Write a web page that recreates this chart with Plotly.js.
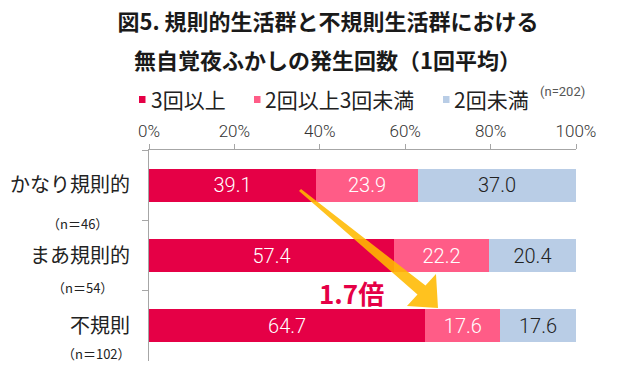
<!DOCTYPE html>
<html>
<head>
<meta charset="utf-8">
<script src="https://cdn.plot.ly/plotly-3.0.1.min.js"></script>
<style>html,body{margin:0;padding:0;background:#fff;}#chart{width:621px;height:376px;}</style>
</head>
<body>
<div id="chart"></div>
<script>
// ---- data ----
const categories = ['かなり規則的', 'まあ規則的', '不規則'];
const sampleSizes = ['（n＝46）', '（n＝54）', '（n＝102）'];
const seriesNames = ['3回以上', '2回以上3回未満', '2回未満'];
const over3 = [39.1, 57.4, 64.7];
const from2to3 = [23.9, 22.2, 17.6];
const under2 = [37.0, 20.4, 17.6];
const xTickVals = [0, 20, 40, 60, 80, 100];
const xTickText = ['0%', '20%', '40%', '60%', '80%', '100%'];
const totalN = '(n=202)';
const ratioLabel = '1.7倍';
const titleLine1 = '図5. 規則的生活群と不規則生活群における';
const titleLine2 = '無自覚夜ふかしの発生回数（1回平均）';

// ---- style ----
const colors = ['#E50046', '#FF5C87', '#B9CDE6'];
const textColors = ['#ffffff', '#ffffff', '#222222'];
const JP = '"Noto Sans CJK JP", "Noto Sans", sans-serif';
const NUM = 'Roboto, "Noto Sans CJK JP", sans-serif';
const W = 621, H = 376;
const PL = 149, PR = 576, PT = 150, PB = 361;
const fx = p => (p - PL) / (PR - PL);
const fy = p => (PB - p) / (PB - PT);

const seriesValues = [over3, from2to3, under2];
const traces = seriesValues.map((vals, i) => ({
  type: 'bar',
  orientation: 'h',
  name: seriesNames[i],
  y: categories,
  x: vals,
  marker: {color: colors[i], line: {width: 0}},
  text: vals.map(v => v.toFixed(1)),
  texttemplate: '%{text}',
  textposition: 'inside',
  insidetextanchor: 'middle',
  textangle: 0,
  constraintext: 'none',
  textfont: {family: NUM, size: 20, color: textColors[i], weight: 300},
  hoverinfo: 'name+x',
  showlegend: false
}));

// legend (drawn as annotations + squares)
const legendSquareX = [139, 254, 443];
const legendTextX = [149, 263, 452];
const legendY = 99.5;
const shapes = [];
const annotations = [];
seriesNames.forEach((n, i) => {
  shapes.push({type: 'rect', xref: 'paper', yref: 'paper',
    x0: fx(legendSquareX[i]), x1: fx(legendSquareX[i] + 6.5),
    y0: fy(legendY - 3.5), y1: fy(legendY + 3.5),
    fillcolor: colors[i], line: {width: 0}});
  annotations.push({xref: 'paper', yref: 'paper', x: fx(legendTextX[i]), y: fy(legendY),
    xanchor: 'left', yanchor: 'middle', showarrow: false, text: n,
    font: {family: JP, size: 21, color: '#222'}});
});
annotations.push({xref: 'paper', yref: 'paper', x: fx(538), y: fy(91), xanchor: 'left', yanchor: 'middle',
  showarrow: false, text: totalN, font: {family: NUM, size: 13, color: '#555'}});

// sample sizes under category labels
const nPosX = [77, 82.5, 96];
const nPosY = [223, 287, 353];
sampleSizes.forEach((s, i) => {
  annotations.push({xref: 'paper', yref: 'paper', x: fx(nPosX[i]), y: fy(nPosY[i]),
    xanchor: 'center', yanchor: 'middle', showarrow: false, text: s,
    font: {family: JP, size: 13, color: '#222'}});
});

// title line 2
annotations.push({xref: 'paper', yref: 'paper', x: fx(327), y: fy(59.5), xanchor: 'center', yanchor: 'middle',
  showarrow: false, text: '<b>' + titleLine2 + '</b>', font: {family: JP, size: 22, color: '#1a1a1a'}});

// ratio label
annotations.push({xref: 'paper', yref: 'paper', x: fx(351), y: fy(292.5), xanchor: 'center', yanchor: 'middle',
  showarrow: false, text: '<b>' + ratioLabel + '</b>', font: {family: JP, size: 26, color: '#E50046'}});

// arrow (decoration)
const arrowPts = [[299, 191], [417.5, 294.4], [407, 306], [438, 308], [436, 274], [425.5, 285.6], [301, 189]];
const path = 'M' + arrowPts.map(p => fx(p[0]).toFixed(4) + ',' + fy(p[1]).toFixed(4)).join(' L') + ' Z';
shapes.push({type: 'path', xref: 'paper', yref: 'paper', path: path,
  fillcolor: '#FFBA00', opacity: 0.88, line: {width: 0}, layer: 'above'});

const layout = {
  width: W, height: H,
  margin: {l: PL, r: W - PR, t: PT, b: H - PB, pad: 0},
  paper_bgcolor: '#ffffff', plot_bgcolor: '#ffffff',
  barmode: 'stack',
  bargap: 0.53,
  title: {text: '<b>' + titleLine1 + '</b>', xref: 'container', yref: 'container',
    x: 328 / W, xanchor: 'center', y: 1 - 22.5 / H, yanchor: 'middle',
    font: {family: JP, size: 22, color: '#1a1a1a'}},
  xaxis: {range: [0, 100], side: 'top', tickmode: 'array', tickvals: xTickVals, ticktext: xTickText,
    ticks: 'outside', ticklen: 5, tickcolor: '#a6a6a6', showline: true, linecolor: '#a6a6a6', linewidth: 1,
    showgrid: false, zeroline: false, tickfont: {family: NUM, size: 17, color: '#333', weight: 300}, fixedrange: true},
  yaxis: {type: 'category', autorange: 'reversed', tickson: 'boundaries', ticks: 'outside', ticklen: 6,
    tickcolor: '#a6a6a6', showline: true, linecolor: '#a6a6a6', linewidth: 1, showgrid: false, zeroline: false,
    ticklabelstandoff: 14, tickfont: {family: JP, size: 20, color: '#222'}, fixedrange: true},
  shapes: shapes,
  annotations: annotations,
  showlegend: false
};

Plotly.newPlot('chart', traces, layout, {displayModeBar: false, staticPlot: true});
</script>
</body>
</html>
